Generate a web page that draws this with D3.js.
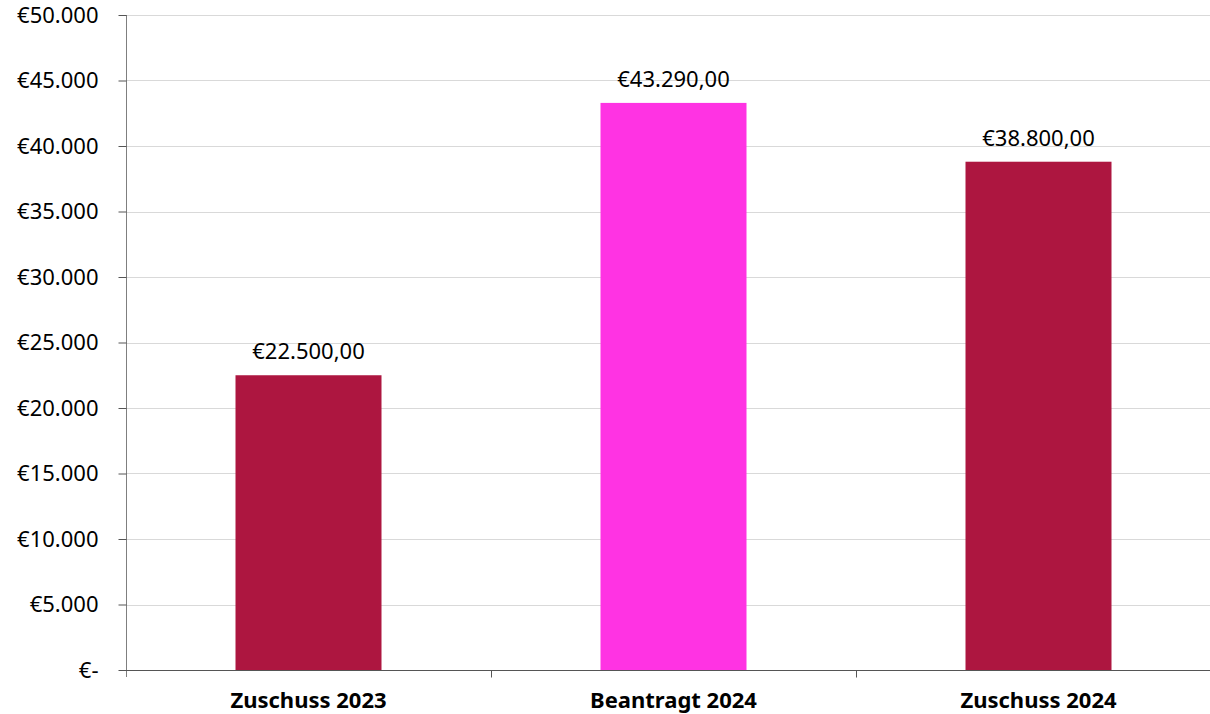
<!DOCTYPE html>
<html>
<head>
<meta charset="utf-8">
<script src="https://cdn.jsdelivr.net/npm/d3@7"></script>
<style>
body { margin: 0; background: #fff; }
svg { font-family: "Noto Sans", "Open Sans", sans-serif; }
</style>
</head>
<body>
<svg width="1210" height="714"></svg>
<script>
var categories = ["Zuschuss 2023", "Beantragt 2024", "Zuschuss 2024"];
var values = [22500, 43290, 38800];
var colors = ["#ad1640", "#ff33e3", "#ad1640"];
var yTicks = [0, 5000, 10000, 15000, 20000, 25000, 30000, 35000, 40000, 45000, 50000];

var svg = d3.select("svg");
var plotLeft = 126, plotRight = 1221, plotTop = 15, plotBottom = 670;

var x = d3.scaleBand().domain(categories).range([plotLeft, plotRight]).paddingInner(0).paddingOuter(0);
var y = d3.scaleLinear().domain([0, 50000]).range([plotBottom, plotTop]);

function euro(v) {
    if (v === 0) return "€-";
    return "€" + d3.format(",")(v).replace(/,/g, ".");
}
function euroDec(v) {
    var s = d3.format(",.2f")(v);
    s = s.replace(/,/g, "#").replace(".", ",").replace(/#/g, ".");
    return "€" + s;
}

// gridlines
svg.append("g").selectAll("line")
    .data(yTicks.filter(function(d){ return d > 0; }))
    .enter().append("line")
    .attr("x1", plotLeft).attr("x2", 1210)
    .attr("y1", function(d){ return Math.round(y(d)) + 0.5; })
    .attr("y2", function(d){ return Math.round(y(d)) + 0.5; })
    .attr("stroke", "#d9d9d9").attr("stroke-width", 1);

// bars
var bw = x.bandwidth() * 0.4;
svg.append("g").selectAll("rect")
    .data(values)
    .enter().append("rect")
    .attr("x", function(d, i){ return x(categories[i]) + (x.bandwidth() - bw) / 2; })
    .attr("y", function(d){ return y(d); })
    .attr("width", bw)
    .attr("height", function(d){ return plotBottom - y(d); })
    .attr("fill", function(d, i){ return colors[i]; });

// data labels
svg.append("g").selectAll("text")
    .data(values)
    .enter().append("text")
    .attr("x", function(d, i){ return x(categories[i]) + x.bandwidth() / 2; })
    .attr("y", function(d){ return y(d) - 16; })
    .attr("text-anchor", "middle")
    .attr("font-size", 22)
    .attr("fill", "#000")
    .text(function(d){ return euroDec(d); });

// y axis
var yAxis = d3.axisLeft(y).tickValues(yTicks).tickSize(8).tickPadding(20).tickFormat(euro);
var gy = svg.append("g").attr("transform", "translate(" + (plotLeft + 0.5) + ",0)").call(yAxis);
gy.select(".domain").attr("stroke", "#7f7f7f").attr("d", "M0," + plotTop + "V" + (plotBottom + 7));
gy.selectAll(".tick line").attr("stroke", "#555");
gy.selectAll(".tick text").attr("font-size", 22).attr("fill", "#000")
    .attr("font-family", "Noto Sans, sans-serif");

// x axis
var gx = svg.append("g").attr("transform", "translate(0," + (plotBottom + 0.5) + ")");
gx.append("line").attr("x1", plotLeft).attr("x2", 1210).attr("y1", 0).attr("y2", 0).attr("stroke", "#555");
gx.selectAll(".sep")
    .data(categories.slice(1))
    .enter().append("line")
    .attr("x1", function(d){ return Math.round(x(d)) + 0.5; })
    .attr("x2", function(d){ return Math.round(x(d)) + 0.5; })
    .attr("y1", 0).attr("y2", 7)
    .attr("stroke", "#555");
gx.selectAll(".lab")
    .data(categories)
    .enter().append("text")
    .attr("x", function(d){ return x(d) + x.bandwidth() / 2; })
    .attr("y", 37)
    .attr("text-anchor", "middle")
    .attr("font-size", 22)
    .attr("font-weight", "bold")
    .attr("fill", "#000")
    .text(function(d){ return d; });
</script>
</body>
</html>
